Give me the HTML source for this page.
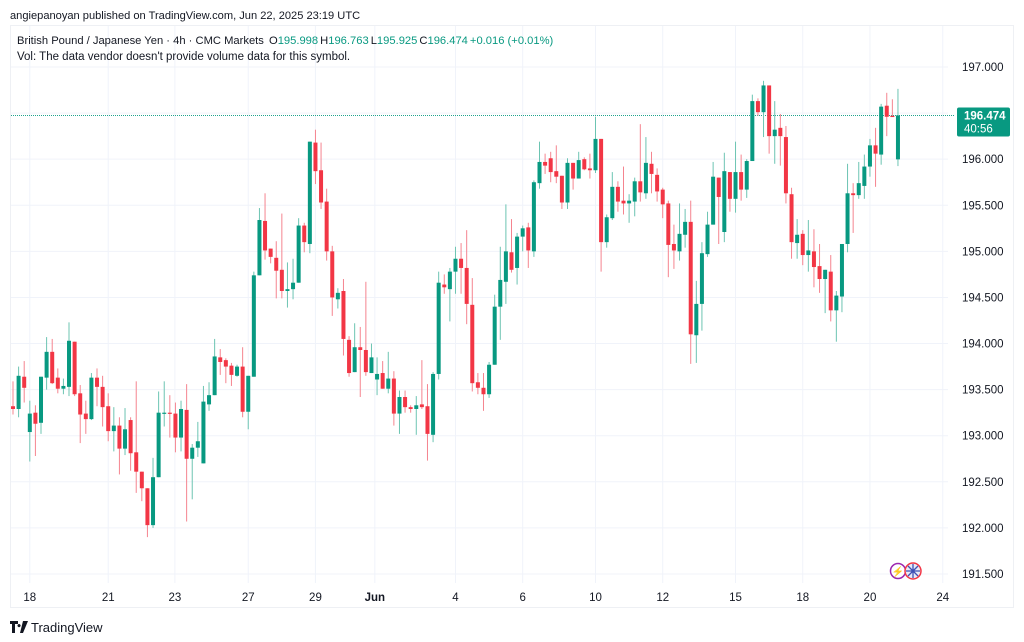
<!DOCTYPE html>
<html><head><meta charset="utf-8"><style>
body{margin:0;background:#fff;width:1024px;height:642px;overflow:hidden;font-family:"Liberation Sans",sans-serif;}
svg{position:absolute;left:0;top:0}
</style></head><body>
<svg id="chart" width="1024" height="642" xmlns="http://www.w3.org/2000/svg" font-family="Liberation Sans, sans-serif">
<text x="10" y="19" font-size="11.1" fill="#131722">angiepanoyan published on TradingView.com, Jun 22, 2025 23:19 UTC</text>
<rect x="10.5" y="25.5" width="1003" height="582" fill="none" stroke="#eef0f4"/>
<g id="grid"></g>
<g id="candles"></g>
<g id="axis"></g>
<g id="xaxis"></g>
<text x="17" y="44" font-size="11.2" fill="#131722">British Pound / Japanese Yen · 4h · CMC Markets <tspan dx="2">O</tspan><tspan fill="#089981">195.998</tspan><tspan dx="2">H</tspan><tspan fill="#089981">196.763</tspan><tspan dx="2">L</tspan><tspan fill="#089981">195.925</tspan><tspan dx="2">C</tspan><tspan fill="#089981">196.474</tspan><tspan dx="2" fill="#089981">+0.016 (+0.01%)</tspan></text>
<text x="17" y="60" font-size="11.5" fill="#131722">Vol: The data vendor doesn't provide volume data for this symbol.</text>
<g>
<circle cx="898" cy="571" r="7.5" fill="#fff" stroke="#9c27b0" stroke-width="1.5"/>
<text x="898" y="575" font-size="10" fill="#9c27b0" text-anchor="middle">⚡</text>
<circle cx="913" cy="571" r="8" fill="#e8eaf6" stroke="#f23645" stroke-width="1.5"/>
<path d="M906 571h14M913 564v14M908 566l10 10M918 566l-10 10" stroke="#3f51b5" stroke-width="1.3"/>
</g>
<g>
<path d="M10 621h8v3h-3v9h-3v-9h-2z M19 624a1.6 1.6 0 1 0 0.1 0z M23 621h5l-5 12h-3z" fill="#131722"/>
<text x="31" y="632" font-size="13" fill="#131722">TradingView</text>
</g>
</svg>
<script>
const opens=[193.32,193.29,193.64,193.04,193.25,193.14,193.63,193.91,193.63,193.51,193.53,194.02,193.46,193.24,193.18,193.63,193.53,193.32,193.05,193.11,192.86,193.17,192.82,192.61,192.43,192.03,192.55,193.24,193.25,193.24,192.98,193.28,192.75,192.87,192.70,193.34,193.44,193.85,193.82,193.76,193.65,193.75,193.26,193.64,194.74,195.33,195.03,194.93,194.80,194.57,194.59,194.66,195.28,195.08,196.18,195.88,195.54,195.00,194.48,194.57,194.04,193.69,193.96,193.93,193.68,193.61,193.68,193.51,193.62,193.24,193.42,193.31,193.29,193.34,193.32,193.01,193.67,194.64,194.59,194.78,194.92,194.82,194.42,193.58,193.52,193.45,193.77,194.40,194.67,194.99,194.82,195.16,195.26,195.00,195.74,195.97,196.01,195.87,195.82,195.53,195.96,195.79,196.00,195.90,195.88,196.22,195.10,195.36,195.70,195.55,195.52,195.54,195.76,195.63,195.95,195.83,195.67,195.52,195.08,195.00,195.18,195.32,194.09,194.43,194.97,195.29,195.80,195.21,195.86,195.57,195.86,195.67,195.98,196.63,196.51,196.80,196.25,196.34,196.24,195.62,195.09,195.19,194.96,195.00,194.84,194.70,194.78,194.36,194.51,195.08,195.63,195.61,195.71,195.92,196.15,196.05,196.58,196.47,195.998];
const highs=[193.59,193.75,193.81,193.38,193.33,193.64,194.07,194.05,193.73,193.62,194.23,194.02,193.55,193.38,193.68,193.73,193.65,193.46,193.31,193.20,193.30,193.20,193.59,192.61,192.43,192.76,193.48,193.59,193.44,193.36,193.38,193.56,192.91,193.15,193.54,193.58,194.05,193.94,193.84,193.79,193.77,193.96,193.65,194.78,195.47,195.63,195.03,195.11,195.41,194.88,194.92,195.36,195.31,196.19,196.32,196.18,195.68,195.06,194.60,194.70,194.08,194.22,194.18,194.67,194.00,193.85,193.81,193.91,193.70,193.49,193.49,193.33,193.43,193.82,193.56,193.69,194.78,194.75,194.82,195.05,195.09,195.23,194.71,193.68,193.68,193.80,194.53,195.05,195.51,195.35,195.20,195.28,195.31,195.77,196.19,196.06,196.08,196.15,195.82,196.01,195.96,196.08,196.02,196.06,196.46,196.22,195.40,195.86,195.76,195.92,195.62,195.80,196.38,196.24,196.08,195.90,195.69,195.55,195.29,195.52,195.46,195.55,194.68,195.10,195.43,195.97,195.80,196.07,195.86,196.19,196.05,196.00,196.70,196.66,196.85,196.80,196.63,196.49,196.36,195.69,195.35,195.23,195.34,195.24,195.08,194.80,194.96,194.57,195.08,195.95,195.74,195.97,196.05,196.22,196.34,196.60,196.72,196.65,196.763];
const lows=[193.23,193.20,193.36,192.72,192.78,193.02,193.50,193.56,193.46,193.45,193.43,193.43,192.92,193.02,193.17,193.32,193.10,192.94,192.83,192.58,192.79,192.62,192.38,192.29,191.90,192.00,192.55,193.10,192.98,192.82,192.83,192.07,192.31,192.77,192.70,193.27,193.44,193.66,193.57,193.54,193.64,193.20,193.07,193.64,194.74,194.91,194.87,194.49,194.49,194.39,194.48,194.66,194.99,194.98,195.73,195.46,194.90,194.30,194.38,193.87,193.64,193.69,193.42,193.65,193.68,193.44,193.51,193.46,193.11,193.02,193.25,193.25,193.01,193.29,192.73,192.93,193.61,194.54,194.24,194.54,194.54,194.21,193.48,193.45,193.27,193.41,193.77,194.04,194.43,194.77,194.64,195.00,194.82,194.94,195.68,195.84,195.75,195.74,195.46,195.46,195.67,195.79,195.88,195.79,195.85,194.78,195.04,195.34,195.43,195.40,195.31,195.38,195.54,195.57,195.63,195.54,195.36,194.72,194.81,194.90,195.04,193.78,193.79,194.14,194.94,195.29,195.08,195.10,195.43,195.42,195.55,195.58,195.98,196.47,196.24,196.06,195.95,195.93,195.52,194.92,194.92,194.85,194.78,194.61,194.55,194.33,194.24,194.02,194.34,194.99,195.20,195.57,195.57,195.81,195.70,195.94,196.25,196.46,195.925];
const closes=[193.29,193.65,193.52,193.24,193.13,193.64,193.91,193.57,193.51,193.54,194.03,193.45,193.23,193.18,193.63,193.53,193.31,193.05,193.11,192.86,193.07,192.81,192.61,192.43,192.03,192.55,193.25,193.25,193.24,192.98,193.29,192.75,192.87,192.94,193.37,193.44,193.86,193.80,193.75,193.66,193.75,193.26,193.65,194.74,195.34,195.01,194.94,194.79,194.57,194.59,194.66,195.28,195.10,196.19,195.87,195.53,195.00,194.50,194.55,194.05,193.68,193.96,193.93,193.69,193.85,193.67,193.51,193.62,193.24,193.42,193.31,193.29,193.33,193.31,193.02,193.67,194.66,194.61,194.78,194.92,194.82,194.43,193.57,193.52,193.45,193.77,194.40,194.69,195.00,194.80,195.16,195.25,195.01,195.75,195.97,195.93,195.86,195.81,195.53,195.96,195.79,195.99,195.89,195.88,196.22,195.10,195.37,195.70,195.54,195.52,195.55,195.76,195.64,195.96,195.84,195.65,195.51,195.07,195.01,195.19,195.32,194.10,194.43,194.98,195.29,195.81,195.59,195.87,195.57,195.86,195.67,195.98,196.63,196.51,196.80,196.25,196.32,196.25,195.63,195.10,195.18,194.96,195.01,194.83,194.70,194.80,194.36,194.52,195.08,195.63,195.61,195.74,195.92,196.15,196.06,196.57,196.46,196.46,196.474];
const priceTicks=[197.0,196.5,196.0,195.5,195.0,194.5,194.0,193.5,193.0,192.5,192.0,191.5];
const dateLabels=["18","21","23","27","29","Jun","4","6","10","12","15","18","20","24"];
const dateIndex=[3,17,28.9,42,54,64.6,79,91,104,116,129,141,153,166];
const lastPrice=196.474;
const countdown="40:56";

const NS="http://www.w3.org/2000/svg";
function y(p){return 67+(197-p)*92.18;}
function x(i){return 13+i*5.601;}
function mk(tag,attrs,parent){const e=document.createElementNS(NS,tag);for(const k in attrs)e.setAttribute(k,attrs[k]);parent.appendChild(e);return e;}
const grid=document.getElementById('grid'),cg=document.getElementById('candles'),ax=document.getElementById('axis'),xa=document.getElementById('xaxis');
priceTicks.forEach(p=>{
  const l=mk('line',{x1:11,x2:948,y1:y(p),y2:y(p),stroke:'#f0f3fa'},grid);
  
  
  const t=mk('text',{x:962,y:y(p)+4,'font-size':11.5,fill:'#131722'},ax);
  
  
  t.textContent=p.toFixed(3);
});
dateIndex.forEach((d,k)=>{
  const l=mk('line',{x1:x(d),x2:x(d),y1:26,y2:583,stroke:'#f0f3fa'},grid);
  
  
  const t=mk('text',{x:x(d),y:601,'font-size':11.5,fill:'#131722','text-anchor':'middle','font-weight':dateLabels[k]==='Jun'?'bold':'normal'},xa);
  
  
  t.textContent=dateLabels[k];
});
opens.forEach((o,i)=>{
  const c=closes[i],up=c>=o,col=up?'#089981':'#f23645',wc=up?'#6cc4b2':'#f5848f';
  const g=mk('g',{},cg);
  
  
  mk('line',{x1:x(i),x2:x(i),y1:y(highs[i]),y2:y(lows[i]),stroke:wc,'stroke-width':1},g);
  const top=y(Math.max(o,c)),bot=y(Math.min(o,c));
  mk('rect',{x:x(i)-2,y:top,width:4,height:Math.max(1.2,bot-top),fill:col},g);
});
const py=y(lastPrice);
const pl=mk('line',{x1:11,x2:955,y1:py,y2:py,stroke:'#089981','stroke-dasharray':'1 1','stroke-opacity':0.9},grid);


const lb=mk('rect',{x:957,y:py-8,width:53,height:29,rx:2,fill:'#089981'},ax);


const lt=mk('text',{x:964,y:py+4,'font-size':11.5,fill:'#fff','font-weight':'bold'},ax);


lt.textContent=lastPrice.toFixed(3);
const ct=mk('text',{x:964,y:py+17,'font-size':11.5,fill:'#fff'},ax);


ct.textContent=countdown;
</script>
</body></html>
